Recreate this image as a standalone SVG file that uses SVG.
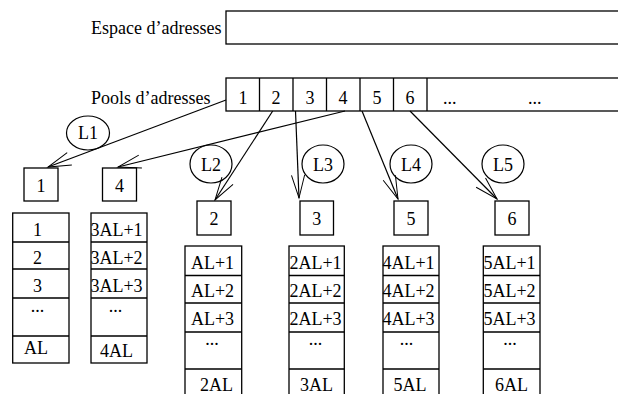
<svg xmlns="http://www.w3.org/2000/svg" width="618" height="394" viewBox="0 0 618 394">
<style>
text{font-family:"Liberation Serif","Times New Roman",serif;font-size:18px;fill:#000}
.m{text-anchor:middle}
.b{fill:#fff;stroke:#000;stroke-width:1.3}
.l{stroke:#000;stroke-width:1.3;fill:none}
.c{stroke:#000;stroke-width:1.2;fill:none}
</style>
<defs>
<marker id="ah" markerUnits="userSpaceOnUse" orient="auto" refX="0" refY="0" markerWidth="30" markerHeight="20" viewBox="-25 -10 30 20" overflow="visible">
<path d="M-23,-6.6 L0,0 L-23,6.6" fill="none" stroke="#000" stroke-width="1"/>
</marker>
</defs>
<g id="espace">
<text x="91" y="34">Espace d’adresses</text>
<rect class="b" x="226" y="11" width="400" height="33"/>
</g>
<g id="pools">
<text x="91" y="104">Pools d’adresses</text>
<rect class="b" x="226" y="78" width="400" height="33"/>
<path class="l" d="M259.5,78V111M293,78V111M326.5,78V111M360,78V111M393.5,78V111M427,78V111"/>
<text class="m" x="243" y="104">1</text>
<text class="m" x="276" y="104">2</text>
<text class="m" x="310" y="104">3</text>
<text class="m" x="343" y="104">4</text>
<text class="m" x="377" y="104">5</text>
<text class="m" x="410" y="104">6</text>
<text x="443" y="104">...</text>
<text x="528" y="104">...</text>
</g>
<g id="connectors">
<line class="c" x1="226" y1="100" x2="48" y2="167" marker-end="url(#ah)"/>
<line class="c" x1="345" y1="111" x2="118" y2="167" marker-end="url(#ah)"/>
<line class="c" x1="272.7" y1="111" x2="215" y2="200" marker-end="url(#ah)"/>
<line class="c" x1="295.5" y1="111" x2="299" y2="198" marker-end="url(#ah)"/>
<line class="c" x1="362" y1="111" x2="398" y2="199" marker-end="url(#ah)"/>
<line class="c" x1="410" y1="111" x2="497" y2="199" marker-end="url(#ah)"/>
</g>
<g id="L1"><ellipse class="c" cx="88" cy="133" rx="21.5" ry="17"/><text class="m" x="88" y="139">L1</text></g>
<g id="L2"><ellipse class="c" cx="211" cy="164" rx="21" ry="19"/><text class="m" x="211" y="171">L2</text></g>
<g id="L3"><ellipse class="c" cx="323" cy="164" rx="21" ry="19"/><text class="m" x="323" y="171">L3</text></g>
<g id="L4"><ellipse class="c" cx="411" cy="164" rx="21" ry="19"/><text class="m" x="411" y="171">L4</text></g>
<g id="L5"><ellipse class="c" cx="503" cy="164" rx="21" ry="19"/><text class="m" x="503" y="171">L5</text></g>
<g id="box1"><rect class="b" x="24" y="168" width="34" height="33"/><text class="m" x="41" y="192">1</text></g>
<g id="box4"><rect class="b" x="102.5" y="168" width="34" height="33"/><text class="m" x="119.5" y="192">4</text></g>
<g id="box2"><rect class="b" x="197" y="201" width="34" height="34"/><text class="m" x="214" y="225">2</text></g>
<g id="box3"><rect class="b" x="300" y="201" width="33.5" height="34"/><text class="m" x="316.7" y="225">3</text></g>
<g id="box5"><rect class="b" x="394" y="201" width="34" height="34"/><text class="m" x="411" y="225">5</text></g>
<g id="box6"><rect class="b" x="495" y="201" width="34" height="34"/><text class="m" x="512" y="225">6</text></g>
<g id="stack1">
<rect class="b" x="12.7" y="213" width="56.3" height="150"/>
<path class="l" d="M12.7,242H69M12.7,269H69M12.7,298H69M12.7,336H69"/>
<text class="m" x="37.5" y="236">1</text>
<text class="m" x="37.5" y="264">2</text>
<text class="m" x="37.5" y="292">3</text>
<text class="m" x="37.5" y="312">...</text>
<text class="m" x="36" y="354">AL</text>
</g>
<g id="stack4">
<rect class="b" x="91" y="213" width="56" height="150"/>
<path class="l" d="M91,242H147M91,269H147M91,298H147M91,336H147"/>
<text class="m" x="116.5" y="236">3AL+1</text>
<text class="m" x="116.5" y="264">3AL+2</text>
<text class="m" x="116.5" y="292">3AL+3</text>
<text class="m" x="115.5" y="312">...</text>
<text class="m" x="116.5" y="357">4AL</text>
</g>
<g id="stack2">
<rect class="b" x="185" y="246" width="56.7" height="160"/>
<path class="l" d="M185,275.5H241.7M185,303H241.7M185,332H241.7M185,369H241.7"/>
<text class="m" x="212.5" y="269">AL+1</text>
<text class="m" x="212.5" y="297">AL+2</text>
<text class="m" x="212.5" y="325">AL+3</text>
<text class="m" x="212" y="345">...</text>
<text class="m" x="216.5" y="391">2AL</text>
</g>
<g id="stack3">
<rect class="b" x="289" y="246" width="55.3" height="160"/>
<path class="l" d="M289,275.5H344.3M289,303H344.3M289,332H344.3M289,369H344.3"/>
<text class="m" x="315.5" y="269">2AL+1</text>
<text class="m" x="315.5" y="297">2AL+2</text>
<text class="m" x="315.5" y="325">2AL+3</text>
<text class="m" x="315.5" y="345">...</text>
<text class="m" x="316.5" y="391">3AL</text>
</g>
<g id="stack5">
<rect class="b" x="383" y="246" width="56" height="160"/>
<path class="l" d="M383,275.5H439M383,303H439M383,332H439M383,369H439"/>
<text class="m" x="408.5" y="269">4AL+1</text>
<text class="m" x="408.5" y="297">4AL+2</text>
<text class="m" x="408.5" y="325">4AL+3</text>
<text class="m" x="406.5" y="345">...</text>
<text class="m" x="410" y="391">5AL</text>
</g>
<g id="stack6">
<rect class="b" x="483.3" y="246" width="56.7" height="160"/>
<path class="l" d="M483.3,275.5H540M483.3,303H540M483.3,332H540M483.3,369H540"/>
<text class="m" x="509.5" y="269">5AL+1</text>
<text class="m" x="509.5" y="297">5AL+2</text>
<text class="m" x="509.5" y="325">5AL+3</text>
<text class="m" x="510" y="345">...</text>
<text class="m" x="511.5" y="391">6AL</text>
</g>
</svg>
